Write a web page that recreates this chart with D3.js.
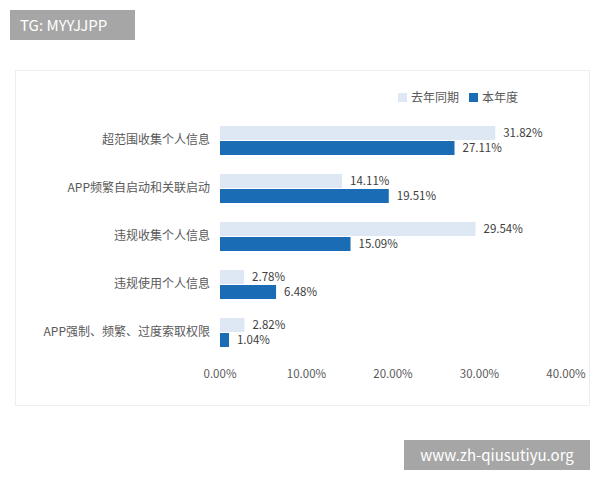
<!DOCTYPE html>
<html><head><meta charset="utf-8">
<script src="https://cdn.jsdelivr.net/npm/d3@7"></script>
<style>body{margin:0;background:#fff;font-family:"Noto Sans CJK SC","Noto Sans",sans-serif;}</style>
</head><body><div id="chart"></div>
<script>
const categories = ["超范围收集个人信息", "APP频繁自启动和关联启动", "违规收集个人信息", "违规使用个人信息", "APP强制、频繁、过度索取权限"];
const lastYear = [31.82, 14.11, 29.54, 2.78, 2.82];
const thisYear = [27.11, 19.51, 15.09, 6.48, 1.04];
const seriesNames = ["去年同期", "本年度"];
const ticks = [0, 10, 20, 30, 40];
const colors = ["#dee8f5", "#1a6db5"];

const svg = d3.select("#chart").append("svg").attr("width", 600).attr("height", 480);

// panel
svg.append("rect").attr("x", 15.5).attr("y", 70.5).attr("width", 574).attr("height", 335)
  .attr("fill", "#fff").attr("stroke", "#eeeeee");

// watermarks
svg.append("rect").attr("x", 10).attr("y", 10).attr("width", 125).attr("height", 30).attr("fill", "#a6a6a6");
svg.append("text").attr("x", 20).attr("y", 31).attr("fill", "#fff").attr("font-size", 15).text("TG: MYYJJPP");
svg.append("rect").attr("x", 404).attr("y", 440).attr("width", 186).attr("height", 30).attr("fill", "#a6a6a6");
svg.append("text").attr("x", 497).attr("y", 461).attr("text-anchor", "middle").attr("fill", "#fff").attr("font-size", 15).text("www.zh-qiusutiyu.org");

const x = d3.scaleLinear().domain([0, 40]).range([220, 566]);
const y = d3.scaleBand().domain(categories).range([116, 356]);
const bh = 14;

// legend
seriesNames.forEach((n, i) => {
  const lx = 398 + i * 71;
  svg.append("rect").attr("x", lx).attr("y", 93).attr("width", 9).attr("height", 9).attr("fill", colors[i]);
  svg.append("text").attr("x", lx + 13).attr("y", 102).attr("font-size", 12).attr("fill", "#595959").text(n);
});

const fmt = d => d.toFixed(2) + "%";
[lastYear, thisYear].forEach((vals, s) => {
  const g = svg.append("g");
  g.selectAll("rect").data(vals).enter().append("rect")
    .attr("x", x(0)).attr("y", (d, i) => y(categories[i]) + y.bandwidth() / 2 - bh + s * (bh + 1))
    .attr("width", d => x(d) - x(0)).attr("height", bh).attr("fill", colors[s]);
  g.selectAll("text").data(vals).enter().append("text")
    .attr("x", d => x(d) + 8).attr("y", (d, i) => y(categories[i]) + y.bandwidth() / 2 - bh / 2 + s * (bh + 1) + 4)
    .attr("font-size", 11.5).attr("fill", "#404040").text(fmt);
});

// category labels
svg.selectAll(".cat").data(categories).enter().append("text")
  .attr("x", 210).attr("y", d => y(d) + y.bandwidth() / 2 + 4)
  .attr("text-anchor", "end").attr("font-size", 12).attr("fill", "#595959").text(d => d);

// x axis ticks
svg.selectAll(".tick").data(ticks).enter().append("text")
  .attr("x", d => x(d)).attr("y", 378).attr("text-anchor", "middle")
  .attr("font-size", 11.5).attr("fill", "#595959").text(d => d.toFixed(2) + "%");
</script></body></html>
